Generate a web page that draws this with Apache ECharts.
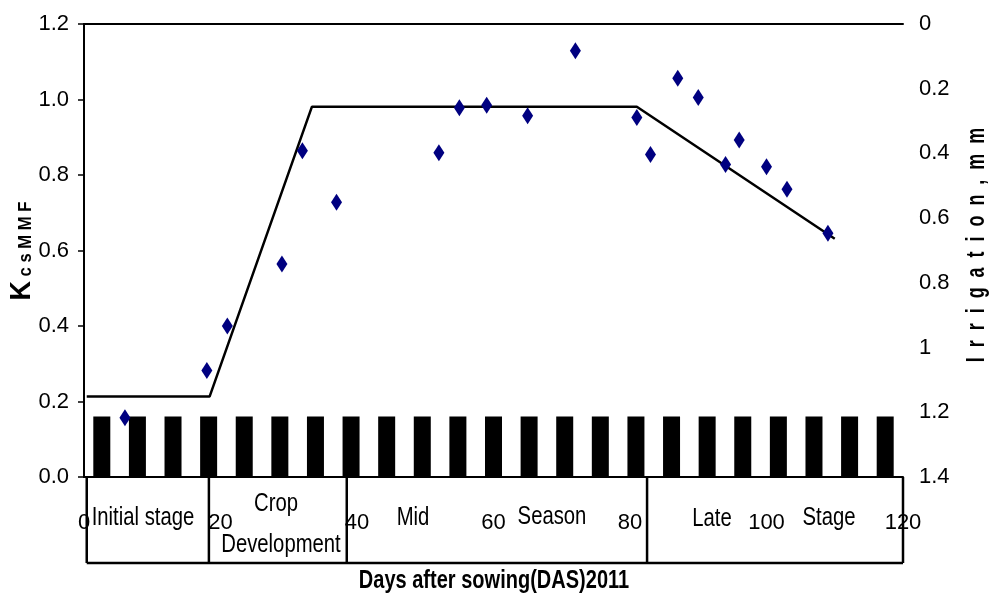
<!DOCTYPE html>
<html>
<head>
<meta charset="utf-8">
<script src="https://cdn.jsdelivr.net/npm/echarts@6/dist/echarts.min.js"></script>
<style>
  html, body { margin: 0; padding: 0; background: #fff; }
  #chart { width: 993px; height: 603px; }
</style>
</head>
<body>
<div id="chart"></div>
<script>
// measured Kc points (day after sowing, Kc)
const obsDays = [6, 18, 21, 29, 32, 37, 52, 55, 59, 65, 72, 81, 83, 87, 90, 94, 96, 100, 103, 109]
const obsKc = [0.157, 0.282, 0.400, 0.564, 0.864, 0.728, 0.859, 0.978, 0.985, 0.957, 1.129, 0.952, 0.854, 1.056, 1.005, 0.828, 0.893, 0.822, 0.762, 0.646]

// FAO style Kc curve
const curveDays = [0.4, 18.4, 33.4, 81, 110]
const curveKc = [0.213, 0.213, 0.981, 0.981, 0.631]

// irrigation events (drawn as bars)
const irrigationSlots = ['1', '2', '3', '4', '5', '6', '7', '8', '9', '10', '11', '12', '13', '14', '15', '16', '17', '18', '19', '20', '21', '22', '23']
const irrigationBars = [0.16, 0.16, 0.16, 0.16, 0.16, 0.16, 0.16, 0.16, 0.16, 0.16, 0.16, 0.16, 0.16, 0.16, 0.16, 0.16, 0.16, 0.16, 0.16, 0.16, 0.16, 0.16, 0.16]

// growth stages
const stageBounds = [0.4, 18.3, 38.5, 82.5, 120]

const sans = '"Liberation Sans", Arial, sans-serif'
const narrowX = 0.78 // squeeze graphic text to look like a narrow face

const chart = echarts.init(document.getElementById('chart'))

const option = {
  backgroundColor: '#fff',
  animation: false,
  grid: { left: 84, right: 90, top: 24, bottom: 126 },
  xAxis: [
    {
      type: 'value',
      min: 0,
      max: 120,
      interval: 20,
      position: 'bottom',
      axisLine: { show: true, lineStyle: { color: '#000', width: 2 } },
      axisTick: { show: false },
      splitLine: { show: false },
      axisLabel: { color: '#000', fontSize: 22, fontFamily: sans, margin: 35 }
    },
    {
      type: 'value',
      min: 0,
      max: 120,
      position: 'top',
      axisLine: { show: true, lineStyle: { color: '#000', width: 2 } },
      axisTick: { show: false },
      axisLabel: { show: false },
      splitLine: { show: false }
    },
    {
      type: 'category',
      data: irrigationSlots,
      show: false,
      boundaryGap: true
    }
  ],
  yAxis: [
    {
      type: 'value',
      min: 0,
      max: 1.2,
      interval: 0.2,
      position: 'left',
      axisLine: { show: true, lineStyle: { color: '#000', width: 2 } },
      axisTick: { show: true, length: 6, lineStyle: { color: '#000', width: 1.5 } },
      splitLine: { show: false },
      axisLabel: {
        color: '#000',
        fontSize: 22,
        fontFamily: sans,
        margin: 15,
        formatter: v => v.toFixed(1)
      }
    },
    {
      type: 'value',
      min: 0,
      max: 1.4,
      interval: 0.2,
      inverse: true,
      position: 'right',
      axisLine: { show: true, lineStyle: { color: '#000', width: 2 } },
      axisTick: { show: false },
      splitLine: { show: false },
      axisLabel: {
        color: '#000',
        fontSize: 22,
        fontFamily: sans,
        margin: 16,
        formatter: v => String(parseFloat(v.toFixed(1)))
      }
    }
  ],
  series: [
    {
      name: 'Irrigation',
      type: 'bar',
      xAxisIndex: 2,
      yAxisIndex: 0,
      barWidth: 17,
      itemStyle: { color: '#000' },
      data: irrigationBars,
      z: 1
    },
    {
      name: 'Kc curve',
      type: 'line',
      xAxisIndex: 0,
      yAxisIndex: 0,
      symbol: 'none',
      lineStyle: { color: '#000', width: 2.5 },
      data: curveDays.map((d, i) => [d, curveKc[i]]),
      z: 3
    },
    {
      name: 'Kc measured',
      type: 'scatter',
      xAxisIndex: 0,
      yAxisIndex: 0,
      symbol: 'diamond',
      symbolSize: [11, 17],
      itemStyle: { color: '#000080', opacity: 1 },
      data: obsDays.map((d, i) => [d, obsKc[i]]),
      z: 4
    }
  ]
}

chart.setOption(option)

// stage table under the x axis
const boxTop = 477
const boxBottom = 563
const boxX = stageBounds.map(d => chart.convertToPixel({ xAxisIndex: 0 }, d))

const graphics = []
boxX.forEach(x => {
  graphics.push({
    type: 'line',
    shape: { x1: x, y1: boxTop, x2: x, y2: boxBottom },
    style: { stroke: '#000', lineWidth: 2.5 },
    z: 10
  })
})
graphics.push({
  type: 'line',
  shape: { x1: boxX[0], y1: boxBottom, x2: boxX[boxX.length - 1], y2: boxBottom },
  style: { stroke: '#000', lineWidth: 2.5 },
  z: 10
})

const stageText = [
  ['Initial stage', 143, 518],
  ['Crop', 276, 504],
  ['Development', 281, 545],
  ['Mid', 413, 518],
  ['Season', 552, 517],
  ['Late', 712, 519],
  ['Stage', 829, 518]
]
stageText.forEach(([t, x, y]) => {
  graphics.push({
    type: 'text',
    x: x,
    y: y,
    scaleX: narrowX,
    style: {
      text: t,
      fill: '#000',
      font: '26px ' + sans,
      textAlign: 'center',
      textVerticalAlign: 'middle'
    },
    z: 11
  })
})

// axis titles
graphics.push({
  type: 'text',
  x: 494,
  y: 581,
  scaleX: 0.77,
  style: {
    text: 'Days after sowing(DAS)2011',
    fill: '#000',
    font: 'bold 26px ' + sans,
    textAlign: 'center',
    textVerticalAlign: 'middle'
  }
})
graphics.push({
  type: 'text',
  x: 22,
  y: 251,
  rotation: Math.PI / 2,
  scaleX: 0.9,
  style: {
    text: '{a|K}{b| c s M M F}',
    rich: {
      a: { font: 'bold 30px ' + sans, fill: '#000' },
      b: { font: 'bold 18.5px ' + sans, fill: '#000', padding: [8, 0, 0, 0] }
    },
    textAlign: 'center',
    textVerticalAlign: 'middle'
  }
})
graphics.push({
  type: 'text',
  x: 977,
  y: 245,
  rotation: Math.PI / 2,
  scaleX: 0.69,
  style: {
    text: 'I  r  r  i  g  a  t  i  o  n  ,  m  m',
    fill: '#000',
    font: 'bold 26px ' + sans,
    textAlign: 'center',
    textVerticalAlign: 'middle'
  }
})

chart.setOption({ graphic: graphics })
</script>
</body>
</html>
